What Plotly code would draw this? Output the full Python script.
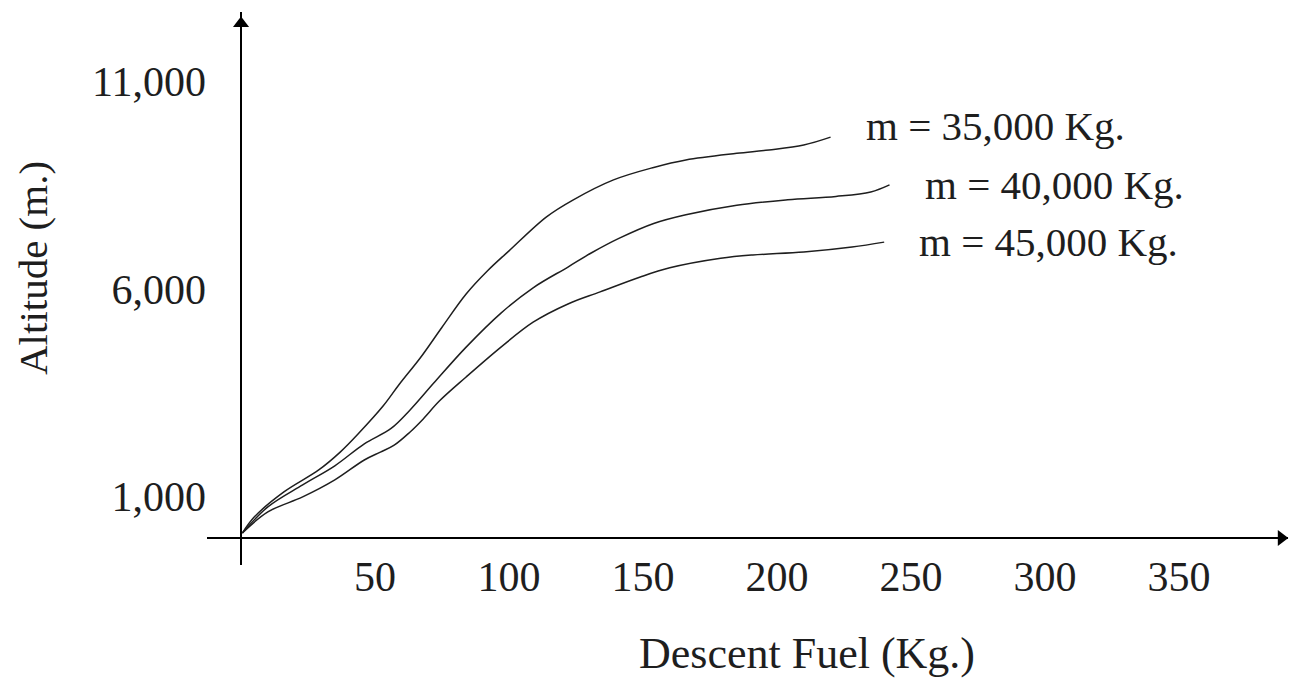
import plotly.graph_objects as go

# Descent fuel (kg) vs altitude (m) for three aircraft masses
fuel_35 = [0.5, 5, 16, 29, 37, 44, 53, 59, 67, 75, 84, 92, 100, 114, 124, 139, 154, 166, 185, 197, 210, 220]
alt_35 = [120, 510, 1110, 1640, 2070, 2530, 3180, 3700, 4350, 5080, 5880, 6440, 6920, 7740, 8150, 8630,
          8930, 9110, 9270, 9350, 9470, 9660]

fuel_40 = [0.5, 10, 23, 35, 46, 56, 63, 72, 84, 97, 109, 122, 131, 141, 154, 166, 185, 204, 222, 235, 242]
alt_40 = [120, 750, 1280, 1740, 2270, 2640, 3080, 3740, 4600, 5420, 6030, 6530, 6880, 7220, 7580, 7790,
          8020, 8150, 8230, 8340, 8510]

fuel_45 = [0.5, 10, 23, 35, 46, 52, 57, 63, 68, 74, 84, 97, 109, 122, 134, 149, 160, 179, 191, 210, 228, 240]
alt_45 = [120, 630, 990, 1400, 1880, 2070, 2230, 2550, 2870, 3300, 3880, 4600, 5200, 5640, 5930, 6290,
          6510, 6740, 6820, 6890, 7010, 7130]

series = [
    ("m = 35,000 Kg.", fuel_35, alt_35, -11),
    ("m = 40,000 Kg.", fuel_40, alt_40, 0),
    ("m = 45,000 Kg.", fuel_45, alt_45, 0),
]

x_ticks = [50, 100, 150, 200, 250, 300, 350]
y_ticks = [1000, 6000, 11000]
y_tick_text = ["1,000", "6,000", "11,000"]

X_MIN, X_MAX = -12.7, 390.7
Y_MIN, Y_MAX = -650, 12675

INK = "#1e1e1e"
FONT = "Liberation Serif"

fig = go.Figure()

for name, xs, ys, _ in series:
    fig.add_trace(go.Scatter(
        x=xs, y=ys, mode="lines", name=name,
        line=dict(color=INK, width=1.5, shape="spline", smoothing=1.0),
        showlegend=False, hoverinfo="skip",
    ))

# arrowheads at the ends of both axes
fig.add_trace(go.Scatter(
    x=[0], y=[12400], mode="markers",
    marker=dict(symbol="triangle-up", size=14, color="#000"),
    showlegend=False, hoverinfo="skip", cliponaxis=False,
))
fig.add_trace(go.Scatter(
    x=[388.2], y=[0], mode="markers",
    marker=dict(symbol="triangle-right", size=14, color="#000"),
    showlegend=False, hoverinfo="skip", cliponaxis=False,
))

annotations = []
for name, xs, ys, dy in series:
    annotations.append(dict(
        x=xs[-1], y=ys[-1], xref="x", yref="y", text=name, showarrow=False,
        xanchor="left", yanchor="middle", xshift=33, yshift=-dy,
        font=dict(family=FONT, size=41, color=INK),
    ))

annotations.append(dict(
    x=0.555, y=-0.16, xref="paper", yref="paper", text="Descent Fuel (Kg.)",
    showarrow=False, xanchor="center", yanchor="middle",
    font=dict(family=FONT, size=44, color=INK),
))
annotations.append(dict(
    x=-0.161, y=0.537, xref="paper", yref="paper", text="Altitude (m.)",
    showarrow=False, xanchor="center", yanchor="middle", textangle=-90,
    font=dict(family=FONT, size=41, color=INK),
))

fig.update_layout(
    width=1291, height=687,
    margin=dict(l=207, r=3, t=12, b=122),
    paper_bgcolor="white", plot_bgcolor="white",
    annotations=annotations,
    xaxis=dict(
        range=[X_MIN, X_MAX], showgrid=False, showline=False,
        zeroline=True, zerolinecolor="#000", zerolinewidth=2,
        tickmode="array", tickvals=x_ticks, ticks="",
        tickfont=dict(family=FONT, size=42, color=INK),
        anchor="free", position=0.03,
        fixedrange=True,
    ),
    yaxis=dict(
        range=[Y_MIN, Y_MAX], showgrid=False, showline=False,
        zeroline=True, zerolinecolor="#000", zerolinewidth=2,
        tickmode="array", tickvals=y_ticks, ticktext=y_tick_text, ticks="",
        tickfont=dict(family=FONT, size=42, color=INK),
        fixedrange=True,
    ),
)

fig.write_html("out.html")
